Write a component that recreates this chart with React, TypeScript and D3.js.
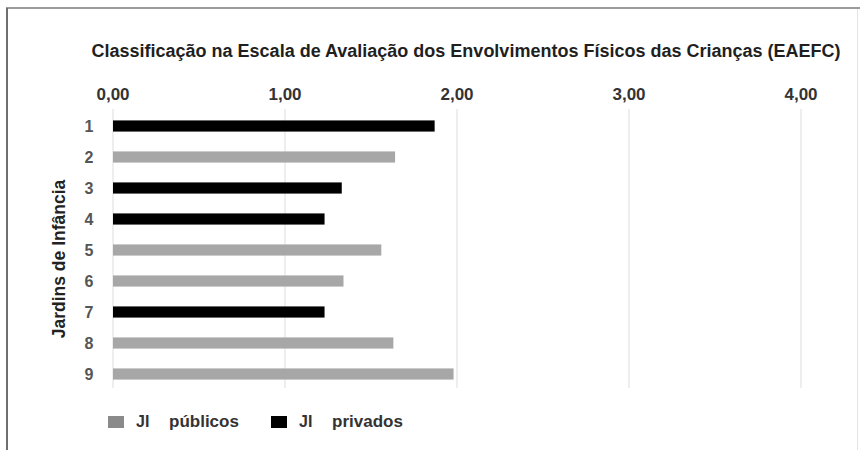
import React from "react";
import * as d3 from "d3";

const categories = ["1", "2", "3", "4", "5", "6", "7", "8", "9"];
const values = [1.87, 1.64, 1.33, 1.23, 1.56, 1.34, 1.23, 1.63, 1.98];
const types = ["privados", "públicos", "privados", "privados", "públicos", "públicos", "privados", "públicos", "públicos"];
const xTicks = [0, 1, 2, 3, 4];
const title = "Classificação na Escala de Avaliação dos Envolvimentos Físicos das Crianças (EAEFC)";
const yTitle = "Jardins de Infância";
const legendItems = [
  { key: "públicos", prefix: "JI", label: "públicos" },
  { key: "privados", prefix: "JI", label: "privados" },
];

const W = 860;
const H = 450;
const font = "'Liberation Sans', Arial, sans-serif";

export default function App() {
  const x = d3.scaleLinear().domain([0, 4]).range([113, 801]);
  const y = d3.scaleBand().domain(categories).range([110.5, 389.5]).paddingInner(0.64).paddingOuter(0.32);
  const color = d3.scaleOrdinal<string, string>().domain(["públicos", "privados"]).range(["#a7a7a7", "#000000"]);
  const legendColor = d3.scaleOrdinal<string, string>().domain(["públicos", "privados"]).range(["#8a8a8a", "#000000"]);
  const fmt = (d: number) => d3.format(".2f")(d).replace(".", ",");
  const legendX = [108, 271];

  return (
    <svg width={W} height={H} style={{ position: "absolute", left: 0, top: 0, background: "#fff" }}>
      <rect x={0} y={0} width={W} height={H} fill="#fff" />
      <line x1={6} x2={W} y1={8} y2={8} stroke="#7a7a7a" strokeWidth={1.5} />
      <line x1={7} x2={7} y1={8} y2={H} stroke="#6f6f6f" strokeWidth={2} />
      <line x1={857.5} x2={857.5} y1={9} y2={H} stroke="#e4e4e4" strokeWidth={1} />

      <text x={466} y={57} textAnchor="middle" fontFamily={font} fontWeight="bold" fontSize={18} fill="#1f1f1f">
        {title}
      </text>

      {xTicks.map((t) => (
        <g key={t}>
          <line x1={x(t)} x2={x(t)} y1={109} y2={388} stroke="#e3e3e3" strokeWidth={1.2} />
          <text x={x(t)} y={100} textAnchor="middle" fontFamily={font} fontWeight="bold" fontSize={17} fill="#333">
            {fmt(t)}
          </text>
        </g>
      ))}

      {categories.map((c, i) => (
        <g key={c}>
          <rect x={x(0)} y={y(c)!} width={x(values[i]) - x(0)} height={y.bandwidth()} fill={color(types[i])} />
          <text x={89} y={y(c)! + y.bandwidth() / 2 + 5.5} textAnchor="middle" fontFamily={font} fontWeight="bold" fontSize={16} fill="#555">
            {c}
          </text>
        </g>
      ))}

      <text transform={`translate(65,259) rotate(-90)`} textAnchor="middle" fontFamily={font} fontWeight="bold" fontSize={17.5} fill="#222">
        {yTitle}
      </text>

      {legendItems.map((l, i) => (
        <g key={l.key}>
          <rect x={legendX[i]} y={416} width={16} height={12} fill={legendColor(l.key)} />
          <text x={legendX[i] + 28} y={427} fontFamily={font} fontWeight="bold" fontSize={16} fill="#333">
            {l.prefix}
          </text>
          <text x={legendX[i] + 61} y={427} fontFamily={font} fontWeight="bold" fontSize={17} fill="#333">
            {l.label}
          </text>
        </g>
      ))}
    </svg>
  );
}
